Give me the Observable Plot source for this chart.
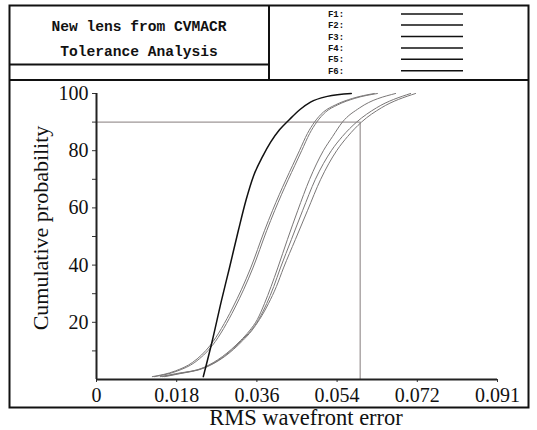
<!DOCTYPE html>
<html>
<head>
<meta charset="utf-8">
<script src="https://cdn.jsdelivr.net/npm/d3@7"></script>
<script src="https://cdn.jsdelivr.net/npm/@observablehq/plot@0.6"></script>
<style>
  html, body { margin: 0; padding: 0; background: #fff; }
</style>
</head>
<body>
<div id="chart"></div>
<script>
// ---- data ----
const seriesNames = ["F1", "F2", "F3", "F4", "F5", "F6"];

const f1Rms = [0.0241, 0.0262, 0.0282, 0.0300, 0.0320, 0.0338, 0.0354, 0.0375, 0.0393, 0.0413, 0.0436, 0.0460, 0.0483, 0.0521, 0.0575];
const f1Prob = [1, 14, 27.6, 39, 52, 63, 71, 78, 83, 87.3, 91, 94.5, 97, 99, 100];

const f2Rms = [0.0126, 0.0178, 0.0217, 0.0257, 0.0307, 0.0348, 0.0379, 0.0397, 0.0458, 0.0476, 0.0492, 0.0512, 0.0539, 0.0578, 0.0627];
const f2Prob = [1, 3, 6, 12, 25, 39, 52, 59, 80, 86, 90, 93.5, 96, 98.3, 100];

const f3Rms = [0.0131, 0.0183, 0.0222, 0.0262, 0.0312, 0.0353, 0.0384, 0.0402, 0.0463, 0.0481, 0.0497, 0.0517, 0.0544, 0.0583, 0.0634];
const f3Prob = [1, 3, 6, 12, 25, 39, 52, 59, 80, 86, 90, 93.5, 96, 98.3, 100];

const f4Rms = [0.0144, 0.0178, 0.0242, 0.0284, 0.0325, 0.0345, 0.0363, 0.0379, 0.0394, 0.0409, 0.0431, 0.0454, 0.0481, 0.0512, 0.0533, 0.0555, 0.0594, 0.0675];
const f4Prob = [1, 2, 4.2, 8, 13.6, 17, 21, 26.5, 32.5, 39, 49, 59, 70, 80, 85, 90, 95, 100];

const f5Rms = [0.0149, 0.0183, 0.0244, 0.0287, 0.0327, 0.0348, 0.0366, 0.0384, 0.0400, 0.0415, 0.0440, 0.0465, 0.0494, 0.0530, 0.0555, 0.0587, 0.0632, 0.0709];
const f5Prob = [1, 2, 4.2, 8, 13.6, 17, 21, 26.5, 32.5, 39, 49, 59, 70, 80, 85, 90, 95, 100];

const f6Rms = [0.0154, 0.0187, 0.0246, 0.0289, 0.0330, 0.0350, 0.0368, 0.0388, 0.0406, 0.0422, 0.0449, 0.0476, 0.0506, 0.0542, 0.0567, 0.0598, 0.0643, 0.0720];
const f6Prob = [1, 2, 4.2, 8, 13.6, 17, 21, 26.5, 32.5, 39, 49, 59, 70, 80, 85, 90, 95, 100];

const xTicks = [0, 0.0181, 0.0362, 0.0543, 0.0724, 0.0905];
const xTickLabels = ["0", "0.018", "0.036", "0.054", "0.072", "0.091"];
const yTicks = [10, 20, 30, 40, 50, 60, 70, 80, 90, 100];
const yTickLabels = ["", "20", "", "40", "", "60", "", "80", "", "100"];

const refProb = 90;
const refRms = 0.0595;

const titleLines = ["New lens from CVMACR", "Tolerance Analysis"];
const xLabel = "RMS wavefront error";
const yLabel = "Cumulative probability";

// ---- build rows ----
const allRms = [f1Rms, f2Rms, f3Rms, f4Rms, f5Rms, f6Rms];
const allProb = [f1Prob, f2Prob, f3Prob, f4Prob, f5Prob, f6Prob];
const rows = [];
seriesNames.forEach((s, k) => {
  allRms[k].forEach((v, i) => rows.push({series: s, rms: v, p: allProb[k][i]}));
});

const xMax = 0.0905;

const plot = Plot.plot({
  width: 537,
  height: 430,
  marginLeft: 96,
  marginRight: 40,
  marginTop: 93,
  marginBottom: 51,
  style: {fontFamily: "'Liberation Serif', serif", fontSize: "20px", background: "white", color: "#111"},
  x: {domain: [0, xMax]},
  y: {domain: [0, 100]},
  marks: [
    Plot.axisX({ticks: xTicks, tickFormat: d => xTickLabels[xTicks.indexOf(d)], tickSize: 3, tickPadding: 5, label: null, fontSize: 20, stroke: "#333"}),
    Plot.axisY({ticks: yTicks, tickFormat: d => yTickLabels[yTicks.indexOf(d)], tickSize: 4, tickPadding: 4, label: null, fontSize: 20, stroke: "#333"}),
    Plot.ruleY([refProb], {x1: 0, x2: refRms, stroke: "#857d7d", strokeWidth: 1}),
    Plot.ruleX([refRms], {y1: 0, y2: refProb, stroke: "#857d7d", strokeWidth: 1}),
    Plot.line(rows.filter(d => d.series !== "F1"), {x: "rms", y: "p", z: "series", stroke: "#7a7777", strokeWidth: 1, curve: "monotone-x"}),
    Plot.line(rows.filter(d => d.series === "F1"), {x: "rms", y: "p", stroke: "#111", strokeWidth: 1.5, curve: "monotone-x"}),
    Plot.ruleX([0], {y1: 0, y2: 100, stroke: "#222", strokeWidth: 2}),
    Plot.ruleY([0], {x1: 0, x2: xMax, stroke: "#222", strokeWidth: 2})
  ]
});

document.getElementById("chart").appendChild(plot);

// ---- frame, header and axis titles ----
const svg = d3.select(plot);
const g = svg.append("g").attr("fill", "none").attr("stroke", "#111").attr("stroke-width", 2);
g.append("rect").attr("x", 9.5).attr("y", 5.5).attr("width", 519).attr("height", 402);
g.append("line").attr("x1", 9.5).attr("x2", 528.5).attr("y1", 80).attr("y2", 80);
g.append("line").attr("x1", 269).attr("x2", 269).attr("y1", 5.5).attr("y2", 80);
g.append("line").attr("x1", 9.5).attr("x2", 269).attr("y1", 64.5).attr("y2", 64.5);

const t = svg.append("g").attr("fill", "#111").attr("font-family", "'Liberation Mono', monospace");
t.append("text").attr("x", 139).attr("y", 31).attr("text-anchor", "middle").attr("font-size", 14.6).attr("font-weight", "bold").text(titleLines[0]);
t.append("text").attr("x", 139).attr("y", 56).attr("text-anchor", "middle").attr("font-size", 14.6).attr("font-weight", "bold").text(titleLines[1]);

const legendY = [14, 25, 36.5, 48, 59.3, 70.7];
seriesNames.forEach((s, i) => {
  t.append("text").attr("x", 336).attr("y", legendY[i] + 3).attr("font-size", 9).attr("font-weight", "bold").text(s + ":");
  svg.append("line").attr("x1", 401).attr("x2", 463).attr("y1", legendY[i]).attr("y2", legendY[i]).attr("stroke", "#111").attr("stroke-width", 1.6);
});

svg.append("text").attr("x", 306).attr("y", 425).attr("text-anchor", "middle")
  .attr("font-family", "'Liberation Serif', serif").attr("font-size", 22.5).attr("fill", "#111").text(xLabel);
svg.append("text").attr("transform", "translate(48,228) rotate(-90)").attr("text-anchor", "middle")
  .attr("font-family", "'Liberation Serif', serif").attr("font-size", 22).attr("fill", "#111").text(yLabel);
</script>
</body>
</html>
